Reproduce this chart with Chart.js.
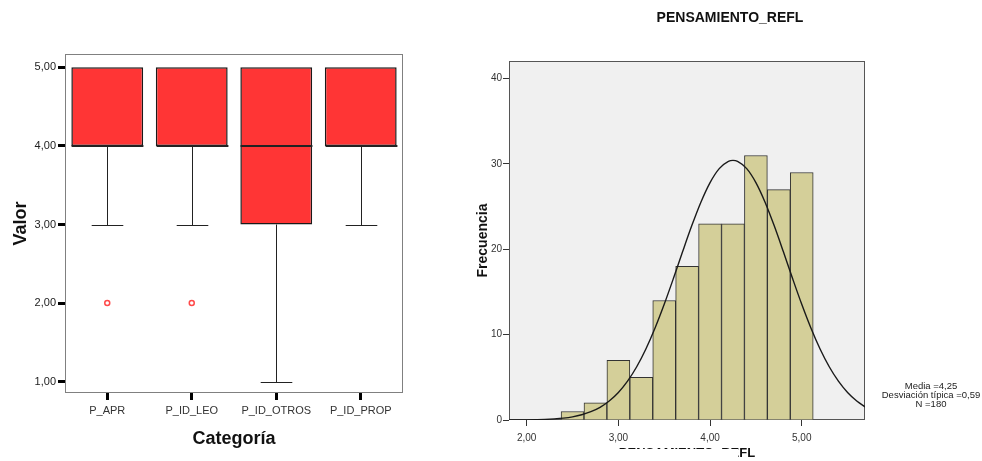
<!DOCTYPE html>
<html>
<head>
<meta charset="utf-8">
<script src="https://cdn.jsdelivr.net/npm/chart.js@4.4.1/dist/chart.umd.min.js"></script>
<style>
  body { margin: 0; background: #fff; width: 982px; height: 461px; position: relative; overflow: hidden;
         font-family: Arial, "Liberation Sans", sans-serif; }
  canvas { position: absolute; top: 0; }
  #boxChart { left: 0; }
  #histChart { left: 470px; }
  .title { position: absolute; left: 630px; width: 200px; top: 9px; text-align: center;
           font-weight: bold; font-size: 14px; color: #111; }
  .stats { position: absolute; left: 871px; width: 120px; top: 381px; text-align: center;
           font-size: 9.5px; line-height: 9px; color: #222; }
  .cover { position: absolute; left: 612px; top: 449px; width: 126px; height: 12px; background: #fff; }
</style>
</head>
<body>
<canvas id="boxChart" width="470" height="461"></canvas>
<canvas id="histChart" width="512" height="461"></canvas>
<div class="title">PENSAMIENTO_REFL</div>
<div class="stats">Media =4,25<br>Desviación típica =0,59<br>N =180</div>
<div class="cover"></div>
<script>
const FONT = 'Arial, "Liberation Sans", sans-serif';

// box plot
const categories = ["P_APR", "P_ID_LEO", "P_ID_OTROS", "P_ID_PROP"];
const whiskerLow = [3, 3, 1, 3];
const q1 = [4, 4, 3, 4];
const median = [4, 4, 4, 4];
const q3 = [5, 5, 5, 5];
const whiskerHigh = [5, 5, 5, 5];
const outliers = [2, 2, null, null];
const boxTicks = [1, 2, 3, 4, 5];

// histogram
const binCenters = [2.5, 2.75, 3.0, 3.25, 3.5, 3.75, 4.0, 4.25, 4.5, 4.75, 5.0];
const counts = [1, 2, 7, 5, 14, 18, 23, 23, 31, 27, 29];
const curveX = [1.8, 1.9, 2.0, 2.1, 2.2, 2.3, 2.4, 2.5, 2.6, 2.7, 2.8, 2.9, 3.0, 3.1, 3.2, 3.3, 3.4, 3.5, 3.6, 3.7,
  3.8, 3.9, 4.0, 4.1, 4.2, 4.25, 4.3, 4.4, 4.5, 4.6, 4.7, 4.8, 4.9, 5.0, 5.1, 5.2, 5.3, 5.4, 5.5, 5.6, 5.7];
const curveY = [0.01, 0.01, 0.02, 0.04, 0.07, 0.13, 0.22, 0.37, 0.61, 0.97, 1.48, 2.22, 3.22, 4.55, 6.24, 8.32, 10.78, 13.56, 16.58, 19.71,
  22.75, 25.52, 27.82, 29.46, 30.32, 30.43, 30.32, 29.46, 27.82, 25.52, 22.75, 19.71, 16.58, 13.56, 10.78, 8.32, 6.24, 4.55, 3.22, 2.22, 1.48];
const histXTicks = [2, 3, 4, 5];
const histYTicks = [0, 10, 20, 30, 40];

const comma = (v) => v.toFixed(2).replace(".", ",");

function framePlugin(color, fill) {
  return {
    id: "frame",
    beforeDatasetsDraw(chart) {
      const { ctx, chartArea: a } = chart;
      ctx.save();
      if (fill) {
        ctx.fillStyle = fill;
        ctx.fillRect(a.left, a.top, a.width, a.height);
      }
      ctx.strokeStyle = color;
      ctx.lineWidth = 1;
      ctx.strokeRect(a.left + 0.5, a.top + 0.5, a.width - 1, a.height - 1);
      ctx.restore();
    },
  };
}

// whiskers, caps and medians for the boxes
const whiskerPlugin = {
  id: "whiskers",
  afterDatasetsDraw(chart) {
    const { ctx, scales: { x, y } } = chart;
    const bars = chart.getDatasetMeta(0).data;
    ctx.save();
    ctx.strokeStyle = "#222";
    categories.forEach((c, i) => {
      const cx = Math.round(x.getPixelForValue(i)) + 0.5;
      const half = bars[i].width / 2;
      const cap = bars[i].width * 0.22;
      ctx.lineWidth = 1;
      ctx.beginPath();
      const lo = Math.round(y.getPixelForValue(whiskerLow[i])) + 0.5;
      ctx.moveTo(cx, lo);
      ctx.lineTo(cx, y.getPixelForValue(q1[i]));
      ctx.moveTo(cx - cap, lo);
      ctx.lineTo(cx + cap, lo);
      if (whiskerHigh[i] > q3[i]) {
        const hi = Math.round(y.getPixelForValue(whiskerHigh[i])) + 0.5;
        ctx.moveTo(cx, hi);
        ctx.lineTo(cx, y.getPixelForValue(q3[i]));
        ctx.moveTo(cx - cap, hi);
        ctx.lineTo(cx + cap, hi);
      }
      ctx.stroke();
      ctx.lineWidth = 2;
      ctx.beginPath();
      const m = y.getPixelForValue(median[i]);
      ctx.moveTo(cx - half, m);
      ctx.lineTo(cx + half, m);
      ctx.stroke();
    });
    ctx.restore();
  },
};

new Chart(document.getElementById("boxChart").getContext("2d"), {
  type: "bar",
  data: {
    labels: categories,
    datasets: [
      {
        data: q1.map((v, i) => [v, q3[i]]),
        backgroundColor: "#FF3535",
        borderColor: "#1a1a1a",
        borderWidth: 1.5,
        borderSkipped: false,
        barPercentage: 0.85,
        categoryPercentage: 1,
      },
      {
        type: "line",
        data: outliers,
        showLine: false,
        pointStyle: "circle",
        pointRadius: 2.5,
        pointBorderWidth: 1.5,
        pointBorderColor: "#ff4a4a",
        pointBackgroundColor: "rgba(255,255,255,0)",
      },
    ],
  },
  options: {
    responsive: false,
    animation: false,
    layout: { padding: { left: 0, right: 67, top: 54, bottom: 0 } },
    plugins: { legend: { display: false }, tooltip: { enabled: false } },
    scales: {
      x: {
        grid: { drawOnChartArea: false, offset: false, tickLength: 7, tickColor: "#000", tickWidth: 3 },
        border: { display: false },
        ticks: { font: { family: FONT, size: 11 }, color: "#333", padding: 4 },
        title: { display: true, text: "Categoría", color: "#111",
                 font: { family: FONT, size: 18, weight: "bold" }, padding: { top: 0, bottom: 11 } },
        afterFit(s) { s.height = 68; },
      },
      y: {
        min: 0.856,
        max: 5.17,
        afterBuildTicks(s) { s.ticks = boxTicks.map((v) => ({ value: v })); },
        grid: { drawOnChartArea: false, tickLength: 7, tickColor: "#000", tickWidth: 3 },
        border: { display: false },
        ticks: { font: { family: FONT, size: 11 }, color: "#222", padding: 2, callback: (v) => comma(v) },
        title: { display: true, text: "Valor", color: "#111",
                 font: { family: FONT, size: 18, weight: "bold" }, padding: { top: 10, bottom: 0 } },
        afterFit(s) { s.width = 65; },
      },
    },
  },
  plugins: [framePlugin("#808080"), whiskerPlugin],
});

new Chart(document.getElementById("histChart").getContext("2d"), {
  type: "bar",
  data: {
    datasets: [
      {
        type: "line",
        data: curveX.map((x, i) => ({ x: x, y: curveY[i] })),
        borderColor: "#1a1a1a",
        borderWidth: 1.4,
        pointRadius: 0,
        cubicInterpolationMode: "monotone",
        order: 0,
      },
      {
        type: "bar",
        data: binCenters.map((x, i) => ({ x: x, y: counts[i] })),
        backgroundColor: "#D4CF99",
        borderColor: "#333",
        borderWidth: 1,
        barPercentage: 1,
        categoryPercentage: 1,
        order: 1,
      },
    ],
  },
  options: {
    responsive: false,
    animation: false,
    layout: { padding: { left: 0, right: 117, top: 61, bottom: 0 } },
    plugins: { legend: { display: false }, tooltip: { enabled: false } },
    scales: {
      x: {
        type: "linear",
        min: 1.807,
        max: 5.69,
        offset: false,
        afterBuildTicks(s) { s.ticks = histXTicks.map((v) => ({ value: v })); },
        grid: { drawOnChartArea: false, offset: false, tickLength: 6, tickColor: "#333", tickWidth: 1 },
        border: { display: false },
        ticks: { font: { family: FONT, size: 10 }, color: "#333", padding: 6, callback: (v) => comma(v) },
        title: { display: true, text: "PENSAMIENTO_REFL", color: "#111",
                 font: { family: FONT, size: 13, weight: "bold" }, padding: { top: 0, bottom: 0 } },
        afterFit(s) { s.height = 41; },
      },
      y: {
        min: 0,
        max: 42.07,
        afterBuildTicks(s) { s.ticks = histYTicks.map((v) => ({ value: v })); },
        grid: { drawOnChartArea: false, tickLength: 6, tickColor: "#333", tickWidth: 1 },
        border: { display: false },
        ticks: { font: { family: FONT, size: 10 }, color: "#333", padding: 1 },
        title: { display: true, text: "Frecuencia", color: "#111",
                 font: { family: FONT, size: 14, weight: "bold" }, padding: { top: 5, bottom: 0 } },
        afterFit(s) { s.width = 39; },
      },
    },
  },
  plugins: [framePlugin("#555", "#F0F0F0")],
});
</script>
</body>
</html>
